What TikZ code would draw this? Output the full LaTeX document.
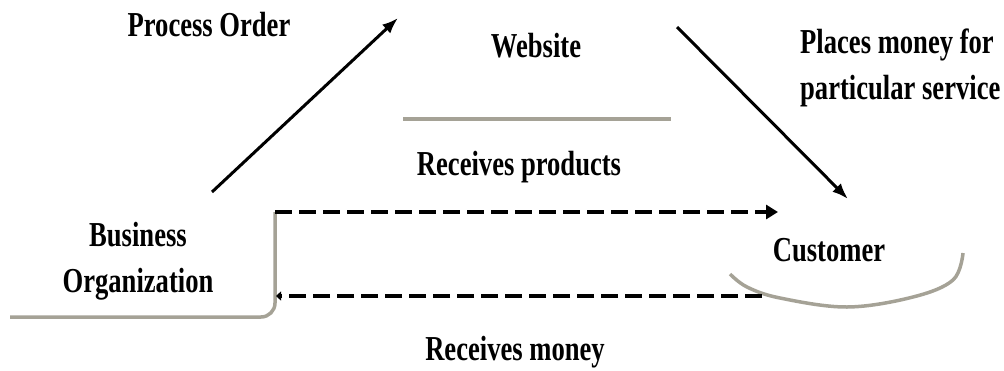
\documentclass[tikz,border=0pt]{standalone}
\usepackage{fontspec}
\setmainfont{Liberation Serif}[FakeStretch=0.76]
\usetikzlibrary{arrows.meta}
\definecolor{lgray}{RGB}{165,162,150}
\tikzset{
  lbl/.style={font=\fontsize{35}{46}\selectfont\bfseries, inner sep=0pt, align=center},
  arr/.style={line width=3pt, -{Latex[length=16pt,width=12pt]}},
  dasharr/.style={line width=4pt, dash pattern=on 17pt off 7pt, -{Triangle[length=12pt,width=14pt]}},
  dasharrsmall/.style={line width=4pt, dash pattern=on 17pt off 7pt, -{Triangle[length=5pt,width=9pt]}},
  grayline/.style={draw=lgray, line width=3.5pt}
}
\begin{document}
\begin{tikzpicture}[x=1pt,y=-1pt]
\useasboundingbox (0,0) rectangle (1004,370);
% labels
\node[lbl, anchor=base] (po) at (209,36) {Process Order};
\node[lbl, anchor=base] (ws) at (536,57) {Website};
\node[lbl, anchor=base west, align=left] (pm) at (800,99) {Places money for\\particular service};
\node[lbl, anchor=base] (rp) at (519,175) {Receives products};
\node[lbl, anchor=base] (bo) at (138,292) {Business\\Organization};
\node[lbl, anchor=base] (cu) at (829,261) {Customer};
\node[lbl, anchor=base] (rm) at (515,360) {Receives money};
% website underline
\coordinate (wsL) at (403,119);
\coordinate (wsR) at (671,119);
\draw[grayline] (wsL) -- (wsR);
% business organization outline
\coordinate (boR) at (275,212);
\coordinate (boB) at (10,317);
\draw[grayline, rounded corners=14pt] (boR) -- (275,317) -- (boB);
% customer outline
\draw[grayline] plot[smooth, tension=0.6] coordinates {(730,274) (747,287) (780,298) (847,307) (913,297) (953,280) (963,253)};
% solid arrows
\coordinate (boTop) at (212,192);
\coordinate (wsIn) at (398,18);
\draw[arr] (boTop) -- (wsIn);
\coordinate (wsOut) at (677,27);
\coordinate (cuIn) at (848,199);
\draw[arr] (wsOut) -- (cuIn);
% dashed arrows
\coordinate (cuTop) at (778,212);
\draw[dasharr] (boR) -- (cuTop);
\coordinate (cuL) at (762,296);
\coordinate (boL) at (276,296);
\draw[dasharrsmall] (cuL) -- (boL);
\end{tikzpicture}
\end{document}
